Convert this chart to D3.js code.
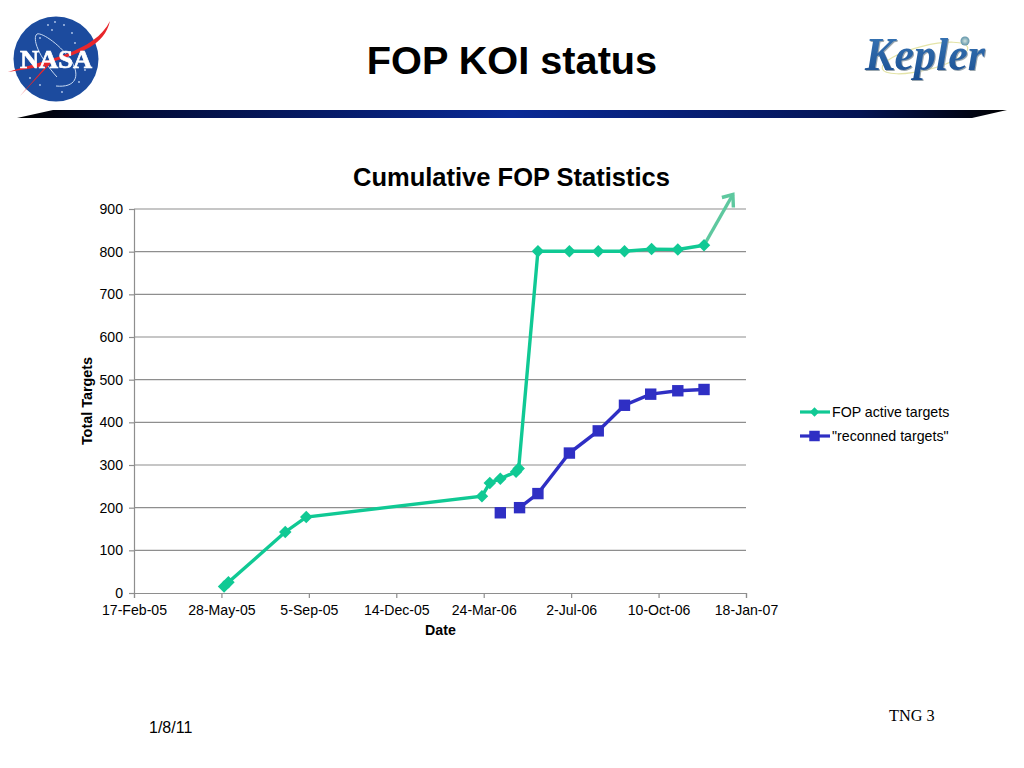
<!DOCTYPE html>
<html><head><meta charset="utf-8">
<script src="https://cdn.jsdelivr.net/npm/d3@7"></script>
<style>html,body{margin:0;padding:0;background:#fff}svg{display:block}text{font-family:"Liberation Sans",Arial,sans-serif;fill:#000}</style>
</head><body><div id="c"></div>
<script>
const pageTitle = "FOP KOI status";
const chartTitle = "Cumulative FOP Statistics";
const xAxisTitle = "Date";
const yAxisTitle = "Total Targets";
const seriesNames = ["FOP active targets", "\"reconned targets\""];
const footerDate = "1/8/11";
const footerPage = "TNG 3";
const xTickDates = ["2005-02-17","2005-05-28","2005-09-05","2005-12-14","2006-03-24","2006-07-02","2006-10-10","2007-01-18"];
const xTickLabels = ["17-Feb-05","28-May-05","5-Sep-05","14-Dec-05","24-Mar-06","2-Jul-06","10-Oct-06","18-Jan-07"];
const yTicks = [0,100,200,300,400,500,600,700,800,900];
const activeDates = ["2005-05-31","2005-06-05","2005-08-09","2005-09-02","2006-03-22","2006-03-31","2006-04-12","2006-04-30","2006-05-03","2006-05-25","2006-06-30","2006-08-02","2006-09-01","2006-10-02","2006-11-01","2006-12-01"];
const activeValues = [15,25,143,178,227,258,268,284,292,801,801,801,801,806,805,815];
const reconDates = ["2006-04-12","2006-05-04","2006-05-25","2006-06-30","2006-08-02","2006-09-01","2006-10-01","2006-11-01","2006-12-01"];
const reconValues = [188,200,233,328,380,440,466,474,477];
const trendDates = ["2006-12-01","2007-01-03"];
const trendValues = [815,934];

const parse = d3.utcParse("%Y-%m-%d");
const svg = d3.select("#c").append("svg").attr("width",1024).attr("height",768);
const defs = svg.append("defs");
const grad = defs.append("linearGradient").attr("id","bar");
[[0,"#000"],[0.12,"#020c38"],[0.5,"#0a2a96"],[0.85,"#041454"],[1,"#000"]].forEach(s=>grad.append("stop").attr("offset",s[0]).attr("stop-color",s[1]));
const ball = defs.append("radialGradient").attr("id","ball");
ball.append("stop").attr("offset",0).attr("stop-color","#cfe3e0");
ball.append("stop").attr("offset",1).attr("stop-color","#5f93a8");
const kg = defs.append("linearGradient").attr("id","kep").attr("x1",0).attr("x2",0).attr("y1",0).attr("y2",1);
kg.append("stop").attr("offset",0).attr("stop-color","#3a78b8");
kg.append("stop").attr("offset",1).attr("stop-color","#1b4f92");
defs.append("filter").attr("id","soft").append("feGaussianBlur").attr("stdDeviation",0.5);

// page header
svg.append("text").attr("x",512).attr("y",74).attr("text-anchor","middle").attr("font-size",39.7).attr("font-weight","bold").text(pageTitle);
svg.append("path").attr("d","M17,118 L53,110 L1007,110 L972,118 Z").attr("fill","url(#bar)");

// NASA logo
const nasa = svg.append("g").attr("filter","url(#soft)");
nasa.append("circle").attr("cx",56).attr("cy",59).attr("r",42.5).attr("fill","#1a4b9e");
[[48,25],[64,25],[55,22],[72,33],[40,38],[82,50],[85,70],[79,82],[40,85],[30,78],[62,92],[52,30],[75,43]].forEach(p=>nasa.append("circle").attr("cx",p[0]).attr("cy",p[1]).attr("r",0.9).attr("fill","#b9cdee"));
nasa.append("path").attr("d","M56,86 C76,88 80,76 72,62 C62,46 42,32 37,34 C32,38 38,56 57,77").attr("fill","none").attr("stroke","#c9d9f2").attr("stroke-width",1);
nasa.append("path").attr("d","M8,72 C45,60 95,52 110,21 C104,46 82,52 52,62 L20,96 L46,66 Z").attr("fill","#e8262c");
nasa.append("text").attr("x",56).attr("y",68).attr("text-anchor","middle").attr("font-size",25).attr("font-weight","bold").attr("textLength",72).attr("lengthAdjust","spacingAndGlyphs").attr("stroke","#fff").attr("stroke-width",0.7).style("font-family","'Liberation Serif'").style("fill","#fff").text("NASA");

// Kepler logo
const kep = svg.append("g").attr("filter","url(#soft)");
kep.append("ellipse").attr("cx",925).attr("cy",58).attr("rx",44).attr("ry",12).attr("transform","rotate(-14 925 58)").attr("fill","none").attr("stroke","#e4e4a8").attr("stroke-width",1.2);
kep.append("text").attr("x",866).attr("y",71).attr("font-size",46).attr("font-weight","bold").attr("font-style","italic").attr("textLength",120).attr("lengthAdjust","spacingAndGlyphs").style("font-family","'Liberation Serif'").style("fill","#9aa6ae").text("Kepler");
kep.append("text").attr("x",865).attr("y",69.5).attr("font-size",46).attr("font-weight","bold").attr("font-style","italic").attr("textLength",120).attr("lengthAdjust","spacingAndGlyphs").style("font-family","'Liberation Serif'").style("fill","url(#kep)").text("Kepler");
kep.append("circle").attr("cx",965).attr("cy",41).attr("r",4.5).attr("fill","url(#ball)");

// chart scales
const x = d3.scaleUtc().domain([parse(xTickDates[0]),parse(xTickDates[xTickDates.length-1])]).range([134,746]);
const y = d3.scaleLinear().domain([0,900]).range([593,209]);

svg.append("text").attr("x",511.5).attr("y",186).attr("text-anchor","middle").attr("font-size",25.5).attr("font-weight","bold").text(chartTitle);

// gridlines
svg.append("g").selectAll("line").data(yTicks.filter(d=>d>0)).join("line")
  .attr("x1",134).attr("x2",746).attr("y1",d=>y(d)).attr("y2",d=>y(d)).attr("stroke","#8e8e8e").attr("stroke-width",1.2);

const xAxis = svg.append("g").attr("transform","translate(0,593)")
  .call(d3.axisBottom(x).tickValues(xTickDates.map(parse)).tickFormat((d,i)=>xTickLabels[i]).tickSize(5).tickPadding(7));
const yAxis = svg.append("g").attr("transform","translate(134,0)")
  .call(d3.axisLeft(y).tickValues(yTicks).tickSize(5).tickPadding(6));
[xAxis,yAxis].forEach(a=>{
  a.selectAll("path,line").attr("stroke","#8e8e8e").attr("stroke-width",1.2);
  a.selectAll("text").attr("font-size",14.1).style("font-family","'Liberation Sans'").attr("fill","#000");
});

svg.append("text").attr("x",440.5).attr("y",635).attr("text-anchor","middle").attr("font-size",14.2).attr("font-weight","bold").text(xAxisTitle);
svg.append("text").attr("transform","translate(92,401) rotate(-90)").attr("text-anchor","middle").attr("font-size",14.4).attr("font-weight","bold").text(yAxisTitle);

const green="#10c994", blue="#2f2fc4";
const line = d3.line().x(d=>x(d[0])).y(d=>y(d[1]));
const active = activeDates.map((d,i)=>[parse(d),activeValues[i]]);
const recon = reconDates.map((d,i)=>[parse(d),reconValues[i]]);
const trend = trendDates.map((d,i)=>[parse(d),trendValues[i]]);

// trend arrow
const tg = svg.append("g").attr("fill","none").attr("stroke","#5ec89f").attr("stroke-width",3.4);
tg.append("path").attr("d",line(trend));
const tip=[x(trend[1][0]),y(trend[1][1])];
tg.append("path").attr("d",`M${tip[0]-11},${tip[1]+3} L${tip[0]},${tip[1]} L${tip[0]+0.5},${tip[1]+13}`);

// series
svg.append("path").attr("d",line(active)).attr("fill","none").attr("stroke",green).attr("stroke-width",3.4);
svg.append("path").attr("d",line(recon.slice(1))).attr("fill","none").attr("stroke",blue).attr("stroke-width",3.4);
const diamond=d3.symbol().type(d3.symbolSquare).size(78);
const square=d3.symbol().type(d3.symbolSquare).size(130);
svg.append("g").selectAll("path").data(active).join("path").attr("d",diamond)
  .attr("transform",d=>`translate(${x(d[0])},${y(d[1])}) rotate(45)`).attr("fill",green);
svg.append("g").selectAll("path").data(recon).join("path").attr("d",square)
  .attr("transform",d=>`translate(${x(d[0])},${y(d[1])})`).attr("fill",blue);

// legend
const legendY=[412,436];
[0,1].forEach(i=>{
  const c=i?blue:green;
  svg.append("line").attr("x1",800).attr("x2",830).attr("y1",legendY[i]).attr("y2",legendY[i]).attr("stroke",c).attr("stroke-width",3.2);
  svg.append("path").attr("d",d3.symbol().type(d3.symbolSquare).size(i?110:44)).attr("transform",`translate(814.5,${legendY[i]})${i?"":" rotate(45)"}`).attr("fill",c);
  svg.append("text").attr("x",832).attr("y",legendY[i]+5).attr("font-size",14.2).text(seriesNames[i]);
});

// footer
svg.append("text").attr("x",149).attr("y",733).attr("font-size",16).text(footerDate);
svg.append("text").attr("x",889).attr("y",721).attr("font-size",16.3).style("font-family","'Liberation Serif'").text(footerPage);
</script></body></html>
